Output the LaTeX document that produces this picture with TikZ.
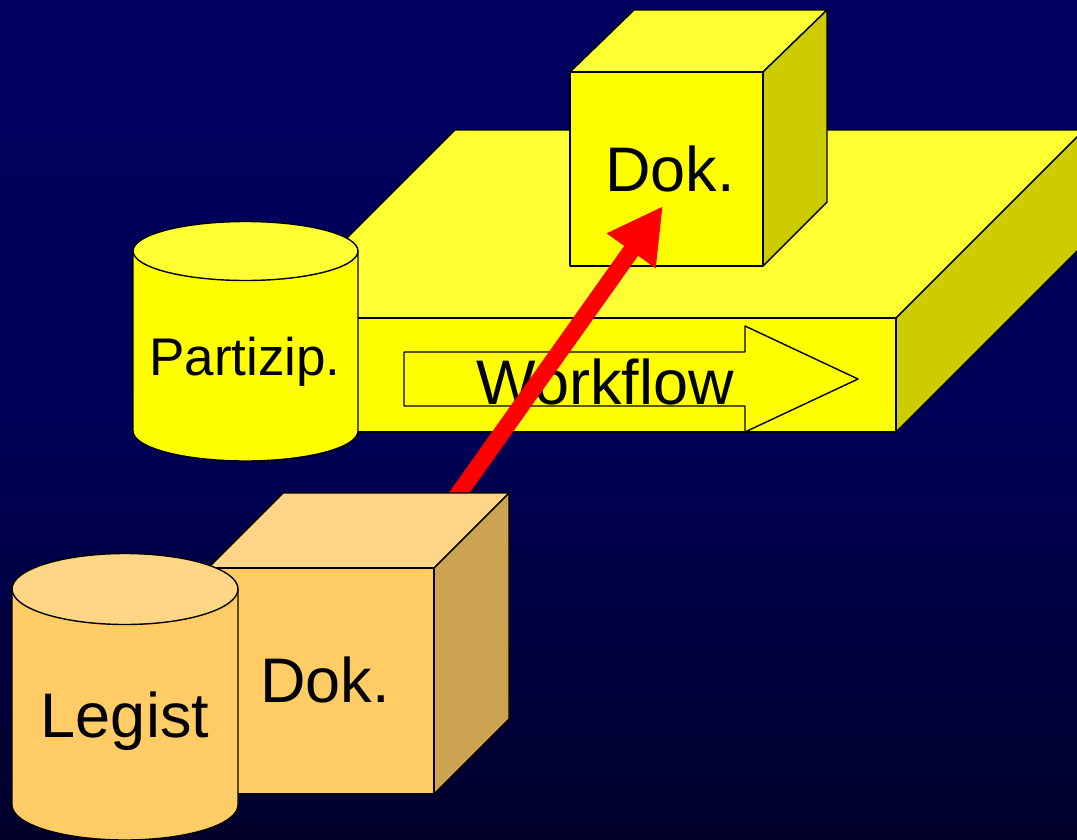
\documentclass[tikz,border=0pt]{standalone}
\usepackage{fontspec}
\setmainfont{Liberation Sans}
\usepackage{tikz}
\usetikzlibrary{positioning}
\usetikzlibrary{arrows.meta}

\definecolor{ylwfront}{RGB}{255,255,0}
\definecolor{ylwtop}{RGB}{255,255,51}
\definecolor{ylwside}{RGB}{204,204,0}
\definecolor{orgfront}{RGB}{255,204,102}
\definecolor{orgtop}{RGB}{255,214,133}
\definecolor{orgside}{RGB}{204,163,82}
\definecolor{bgtop}{RGB}{0,0,96}
\definecolor{bgbot}{RGB}{0,0,42}

\tikzset{
  face/.style={draw=black, line width=1.4pt, line join=round},
  lbl/.style={anchor=base, inner sep=0pt, font=\fontsize{63}{70}\selectfont}
}

\begin{document}
\begin{tikzpicture}[x=1pt,y=-1pt]
  \useasboundingbox (0,0) rectangle (1077,839);
  \clip (0,0) rectangle (1077,839);
  % background
  \fill[top color=bgtop, bottom color=bgbot, middle color=bgtop!85!bgbot] (0,0) rectangle (1077,839);

  % workflow platform
  \draw[face, fill=ylwtop] (267,318) -- (455,130) -- (1084,130) -- (896,318) -- cycle;
  \draw[face, fill=ylwside] (896,318) -- (1084,130) -- (1084,244) -- (896,432) -- cycle;
  \draw[face, fill=ylwfront] (267,318) rectangle (896,432);

  % upper document box
  \draw[face, fill=ylwtop] (570,72) -- (634,10) -- (827,10) -- (763,72) -- cycle;
  \draw[face, fill=ylwside] (763,72) -- (827,10) -- (827,202) -- (763,266) -- cycle;
  \draw[face, fill=ylwfront] (570,72) rectangle (763,266);
  \node[lbl] (topdok) at (670,191) {Dok.};

  % Partizip. cylinder
  \draw[face, fill=ylwfront] (133,251) -- (133,431) arc[start angle=180, end angle=0, x radius=112.5, y radius=30] -- (358,251) -- cycle;
  \draw[face, fill=ylwtop] (245.5,251) ellipse[x radius=112.5, y radius=29.5];
  \node[lbl, font=\fontsize{53}{60}\selectfont] (partizip) at (245,375) {Partizip.};

  % workflow arrow
  \draw[face, fill=ylwfront] (404,352) -- (745,352) -- (745,326) -- (858,379) -- (745,432) -- (745,406) -- (404,406) -- cycle;
  \node[lbl] (workflow) at (605,404) {Workflow};

  % red arrow
  \coordinate (tail) at (440,520);
  \coordinate (tip) at (663,206);
  \draw[red, line width=17pt, -{Triangle[length=55pt, width=56pt]}] (tail) -- (tip);

  % lower document box
  \draw[face, fill=orgtop] (208,568) -- (283,493) -- (509,493) -- (434,568) -- cycle;
  \draw[face, fill=orgside] (434,568) -- (509,493) -- (509,719) -- (434,794) -- cycle;
  \draw[face, fill=orgfront] (208,568) rectangle (434,794);
  \node[lbl] (lowdok) at (325,702) {Dok.};

  % Legist cylinder
  \draw[face, fill=orgfront] (12,589) -- (12,805) arc[start angle=180, end angle=0, x radius=113, y radius=35] -- (238,589) -- cycle;
  \draw[face, fill=orgtop] (125,589) ellipse[x radius=113, y radius=35.5];
  \node[lbl] (legist) at (125,737) {Legist};
\end{tikzpicture}
\end{document}
